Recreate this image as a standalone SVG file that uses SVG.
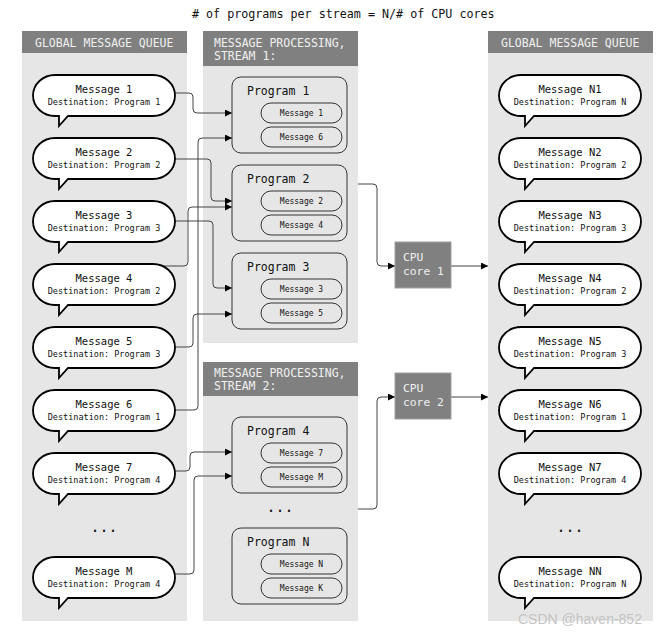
<svg xmlns="http://www.w3.org/2000/svg" width="659" height="635" viewBox="0 0 659 635">
<style>
text{font-family:"DejaVu Sans Mono","Liberation Mono",monospace;}
.panel{fill:#e6e6e6;}
.hdr{fill:#808080;}
.hdrt{fill:#f0f0f0;font-size:11.5px;}
.bub{fill:#fff;stroke:#000;stroke-width:1.8;}
.bt{font-size:10.5px;fill:#111;text-anchor:middle;}
.bd{font-size:8.5px;fill:#111;text-anchor:middle;}
.prog{fill:#e6e6e6;stroke:#333;stroke-width:1;}
.pt{font-size:11.5px;fill:#111;}
.pill{fill:none;stroke:#333;stroke-width:1;}
.pm{font-size:8px;fill:#111;text-anchor:middle;}
.cpu{fill:#808080;stroke:#a0a0a0;stroke-width:1;}
.ct{font-size:11.3px;fill:#f0f0f0;}
.conn{fill:none;stroke:#444;stroke-width:1;marker-end:url(#arr);}
.dots{font-size:15px;fill:#111;text-anchor:middle;}
</style>
<defs>
<marker id="arr" viewBox="0 0 8 8" refX="8" refY="4" markerWidth="7" markerHeight="7" markerUnits="userSpaceOnUse" orient="auto"><path d="M0,0 L8,4 L0,8 Z" fill="#000"/></marker>
<path id="bubble" class="bub" d="M22,0 H120 A22,20.5 0 0 1 120,41 H35 L26,51 V41 H22 A22,20.5 0 0 1 22,0 Z"/>
</defs>
<rect width="659" height="635" fill="#fff"/>
<text x="192" y="18" style="font-size:11.7px;fill:#111">
# of programs per stream = N/# of CPU cores</text>

<g id="panel-global-left">
<rect class="panel" x="22" y="31" width="165" height="590"/>
<rect class="hdr" x="22" y="31" width="165" height="22"/>
<text class="hdrt" x="35" y="46.5">GLOBAL MESSAGE QUEUE</text>
</g>
<g id="panel-stream1">
<rect class="panel" x="203" y="31" width="155" height="312"/>
<rect class="hdr" x="203" y="31" width="155" height="35"/>
<text class="hdrt" x="214" y="46.5">MESSAGE PROCESSING,</text>
<text class="hdrt" x="214" y="59.5">STREAM 1:</text>
</g>
<g id="panel-stream2">
<rect class="panel" x="203" y="362" width="155" height="259"/>
<rect class="hdr" x="203" y="362" width="155" height="34"/>
<text class="hdrt" x="214" y="377">MESSAGE PROCESSING,</text>
<text class="hdrt" x="214" y="390">STREAM 2:</text>
</g>
<g id="panel-global-right">
<rect class="panel" x="488" y="31" width="165" height="590"/>
<rect class="hdr" x="488" y="31" width="165" height="22"/>
<text class="hdrt" x="501" y="46.5">GLOBAL MESSAGE QUEUE</text>
</g>

<g id="connectors">
<path class="conn" d="M170,93 H189 Q193,93 193,97 V109 Q193,113 197,113 H232"/>
<path class="conn" d="M170,410 H194 Q198,410 198,406 V142 Q198,138 202,138 H232"/>
<path class="conn" d="M170,159 H207 Q211,159 211,163 V197 Q211,201 215,201 H232"/>
<path class="conn" d="M160,266 H184 Q188,266 188,262 V211 Q188,207 192,207 H232"/>
<path class="conn" d="M170,221 H209 Q213,221 213,225 V284 Q213,288 217,288 H232"/>
<path class="conn" d="M170,347 H189 Q193,347 193,343 V318 Q193,314 197,314 H232"/>
<path class="conn" d="M170,471 H186 Q190,471 190,467 V456 Q190,452 194,452 H232"/>
<path class="conn" d="M170,574 H190 Q194,574 194,570 V480 Q194,476 198,476 H232"/>
<path class="conn" d="M358,184 H373 Q377,184 377,188 V262 Q377,266 381,266 H395"/>
<path class="conn" d="M358,509 H373 Q377,509 377,505 V401 Q377,397 381,397 H395"/>
<path class="conn" d="M451,266 H488"/>
<path class="conn" d="M451,397 H488"/>
</g>

<g id="msg-1"><use href="#bubble" x="33" y="75"/><text class="bt" x="104" y="93.3">Message 1</text><text class="bd" x="104" y="104.5">Destination: Program 1</text></g>
<g id="msg-2"><use href="#bubble" x="33" y="138"/><text class="bt" x="104" y="156.3">Message 2</text><text class="bd" x="104" y="167.5">Destination: Program 2</text></g>
<g id="msg-3"><use href="#bubble" x="33" y="201"/><text class="bt" x="104" y="219.3">Message 3</text><text class="bd" x="104" y="230.5">Destination: Program 3</text></g>
<g id="msg-4"><use href="#bubble" x="33" y="264"/><text class="bt" x="104" y="282.3">Message 4</text><text class="bd" x="104" y="293.5">Destination: Program 2</text></g>
<g id="msg-5"><use href="#bubble" x="33" y="327"/><text class="bt" x="104" y="345.3">Message 5</text><text class="bd" x="104" y="356.5">Destination: Program 3</text></g>
<g id="msg-6"><use href="#bubble" x="33" y="390"/><text class="bt" x="104" y="408.3">Message 6</text><text class="bd" x="104" y="419.5">Destination: Program 1</text></g>
<g id="msg-7"><use href="#bubble" x="33" y="453"/><text class="bt" x="104" y="471.3">Message 7</text><text class="bd" x="104" y="482.5">Destination: Program 4</text></g>
<text class="dots" x="104" y="532">...</text>
<g id="msg-M"><use href="#bubble" x="33" y="557"/><text class="bt" x="104" y="575.3">Message M</text><text class="bd" x="104" y="586.5">Destination: Program 4</text></g>

<g id="msg-N1"><use href="#bubble" x="499" y="75"/><text class="bt" x="570" y="93.3">Message N1</text><text class="bd" x="570" y="104.5">Destination: Program N</text></g>
<g id="msg-N2"><use href="#bubble" x="499" y="138"/><text class="bt" x="570" y="156.3">Message N2</text><text class="bd" x="570" y="167.5">Destination: Program 2</text></g>
<g id="msg-N3"><use href="#bubble" x="499" y="201"/><text class="bt" x="570" y="219.3">Message N3</text><text class="bd" x="570" y="230.5">Destination: Program 3</text></g>
<g id="msg-N4"><use href="#bubble" x="499" y="264"/><text class="bt" x="570" y="282.3">Message N4</text><text class="bd" x="570" y="293.5">Destination: Program 2</text></g>
<g id="msg-N5"><use href="#bubble" x="499" y="327"/><text class="bt" x="570" y="345.3">Message N5</text><text class="bd" x="570" y="356.5">Destination: Program 3</text></g>
<g id="msg-N6"><use href="#bubble" x="499" y="390"/><text class="bt" x="570" y="408.3">Message N6</text><text class="bd" x="570" y="419.5">Destination: Program 1</text></g>
<g id="msg-N7"><use href="#bubble" x="499" y="453"/><text class="bt" x="570" y="471.3">Message N7</text><text class="bd" x="570" y="482.5">Destination: Program 4</text></g>
<text class="dots" x="570" y="532">...</text>
<g id="msg-NN"><use href="#bubble" x="499" y="557"/><text class="bt" x="570" y="575.3">Message NN</text><text class="bd" x="570" y="586.5">Destination: Program N</text></g>

<g id="program-1"><rect class="prog" x="232" y="77" width="115" height="76" rx="9"/><text class="pt" x="247" y="94.5">Program 1</text>
<rect class="pill" x="261" y="103" width="81" height="20" rx="10"/><text class="pm" x="301.5" y="116">Message 1</text>
<rect class="pill" x="261" y="127" width="81" height="20" rx="10"/><text class="pm" x="301.5" y="140">Message 6</text></g>
<g id="program-2"><rect class="prog" x="232" y="165" width="115" height="76" rx="9"/><text class="pt" x="247" y="182.5">Program 2</text>
<rect class="pill" x="261" y="191" width="81" height="20" rx="10"/><text class="pm" x="301.5" y="204">Message 2</text>
<rect class="pill" x="261" y="215" width="81" height="20" rx="10"/><text class="pm" x="301.5" y="228">Message 4</text></g>
<g id="program-3"><rect class="prog" x="232" y="253" width="115" height="76" rx="9"/><text class="pt" x="247" y="270.5">Program 3</text>
<rect class="pill" x="261" y="279" width="81" height="20" rx="10"/><text class="pm" x="301.5" y="292">Message 3</text>
<rect class="pill" x="261" y="303" width="81" height="20" rx="10"/><text class="pm" x="301.5" y="316">Message 5</text></g>
<g id="program-4"><rect class="prog" x="232" y="417" width="115" height="76" rx="9"/><text class="pt" x="247" y="434.5">Program 4</text>
<rect class="pill" x="261" y="443" width="81" height="20" rx="10"/><text class="pm" x="301.5" y="456">Message 7</text>
<rect class="pill" x="261" y="467" width="81" height="20" rx="10"/><text class="pm" x="301.5" y="480">Message M</text></g>
<text class="dots" x="280" y="512">...</text>
<g id="program-N"><rect class="prog" x="232" y="528" width="115" height="76" rx="9"/><text class="pt" x="247" y="545.5">Program N</text>
<rect class="pill" x="261" y="554" width="81" height="20" rx="10"/><text class="pm" x="301.5" y="567">Message N</text>
<rect class="pill" x="261" y="578" width="81" height="20" rx="10"/><text class="pm" x="301.5" y="591">Message K</text></g>

<g id="cpu-1"><rect class="cpu" x="395" y="242" width="56" height="46"/><text class="ct" x="403" y="261">CPU</text><text class="ct" x="403" y="275">core 1</text></g>
<g id="cpu-2"><rect class="cpu" x="395" y="373" width="56" height="46"/><text class="ct" x="403" y="392">CPU</text><text class="ct" x="403" y="406">core 2</text></g>

<text x="518" y="624" style="font-family:'Liberation Sans',Arial,sans-serif;font-size:14px;fill:#c4c4c4">CSDN @haven-852</text>
</svg>
